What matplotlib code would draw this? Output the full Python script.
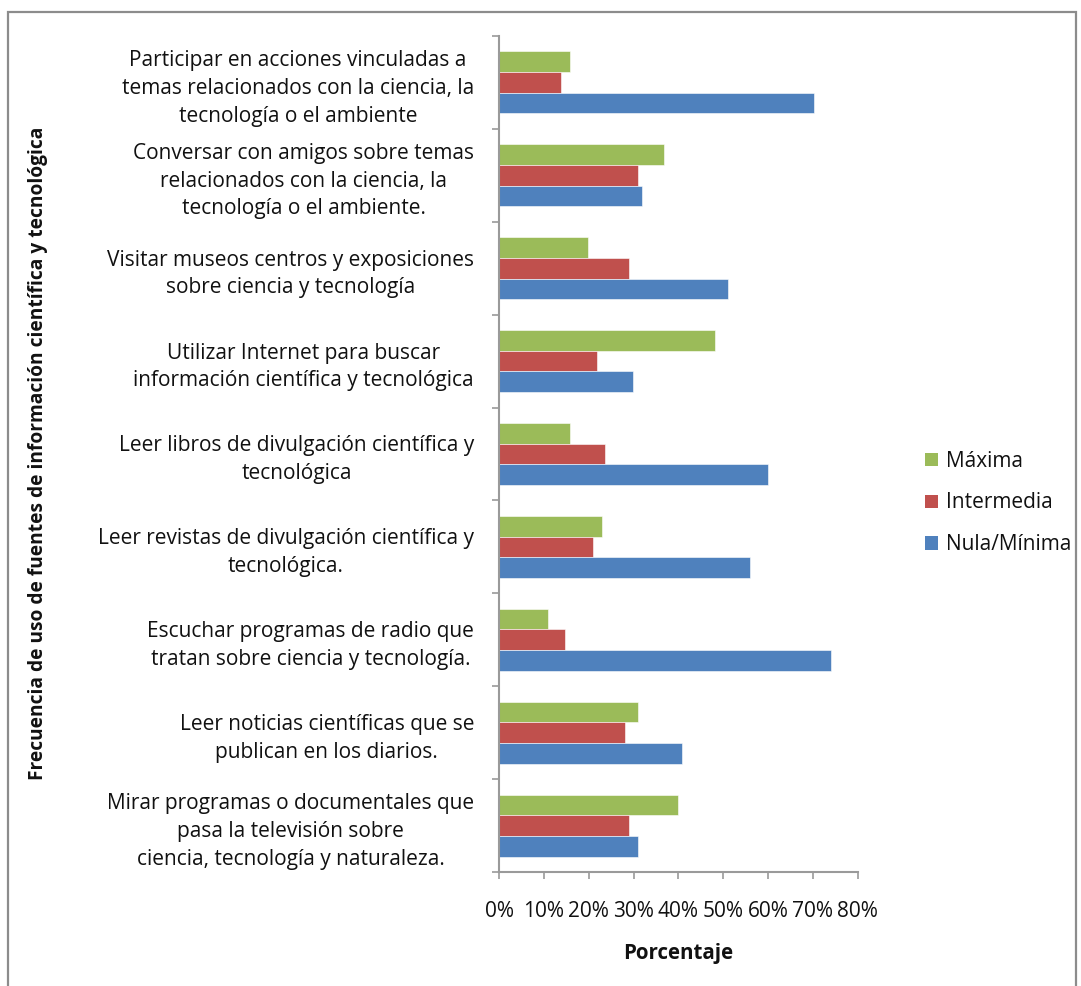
import matplotlib
matplotlib.use("Agg")
import matplotlib.pyplot as plt
from matplotlib.patches import Rectangle, Patch
import numpy as np

plt.rcParams['font.family'] = ['Open Sans', 'DejaVu Sans']

categories = [
    "Participar en acciones vinculadas a\ntemas relacionados con la ciencia, la\ntecnología o el ambiente",
    "Conversar con amigos sobre temas\nrelacionados con la ciencia, la\ntecnología o el ambiente.",
    "Visitar museos centros y exposiciones\nsobre ciencia y tecnología",
    "Utilizar Internet para buscar\ninformación científica y tecnológica",
    "Leer libros de divulgación científica y\ntecnológica",
    "Leer revistas de divulgación científica y\ntecnológica.",
    "Escuchar programas de radio que\ntratan sobre ciencia y tecnología.",
    "Leer noticias científicas que se\npublican en los diarios.",
    "Mirar programas o documentales que\npasa la televisión sobre\nciencia, tecnología y naturaleza.",
]
maxima = [15.8, 36.9, 19.8, 48.1, 15.8, 23.0, 10.9, 30.9, 39.9]
intermedia = [13.8, 30.9, 29.1, 21.9, 23.7, 20.9, 14.8, 28.0, 29.1]
nula = [70.2, 32.0, 51.0, 29.8, 60.1, 55.9, 74.1, 40.9, 30.9]
series_names = ["Máxima", "Intermedia", "Nula/Mínima"]
colors = ["#9BBB59", "#C0504D", "#4F81BD"]
xticks = [0, 10, 20, 30, 40, 50, 60, 70, 80]

FS = 15
W, H = 1081, 986
fig = plt.figure(figsize=(W / 100, H / 100), dpi=100)
fig.patch.set_facecolor("white")

# chart area border
fig.patches.append(Rectangle((8 / W, -0.02), (1076 - 8) / W, 1 - 12 / H + 0.02,
                             transform=fig.transFigure, fill=False,
                             edgecolor="#8C8C8C", lw=1.6))

ax = fig.add_axes([499 / W, 1 - 872 / H, (857.7 - 499) / W, (872 - 36) / H])
y = np.arange(len(categories))
h = 0.2228
for vals, off, c in zip([maxima, intermedia, nula], [-h, 0, h], colors):
    ax.barh(y + off, vals, height=h, color=c, edgecolor="white", linewidth=0.4)

ax.set_ylim(len(categories) - 0.5, -0.5)
ax.set_xlim(0, 80)
ax.set_xticks(xticks)
ax.set_xticklabels([f"{t}%" for t in xticks], fontsize=15, color="#111111")
ax.set_yticks(y)
ax.set_yticklabels(categories, fontsize=FS, color="#111111")
for lab in ax.get_yticklabels():
    lab.set_multialignment("center")
    lab.set_linespacing(1.42)
ax.set_yticks(np.arange(len(categories) + 1) - 0.5, minor=True)
ax.tick_params(axis="y", which="major", length=0, pad=18)
ax.tick_params(axis="y", which="minor", length=5, width=1.2, color="#9A9A9A")
ax.tick_params(axis="x", which="major", length=5, width=1.2, color="#9A9A9A", pad=16)

for s in ["top", "right"]:
    ax.spines[s].set_visible(False)
for s in ["left", "bottom"]:
    ax.spines[s].set_color("#9A9A9A")
    ax.spines[s].set_linewidth(1.5)

fig.text(678 / W, 1 - 953 / H, "Porcentaje", ha="center", va="center",
         fontsize=14.8, fontweight="bold", color="#111111")
fig.text(38 / W, 1 - 453 / H,
         "Frecuencia de uso de fuentes de información científica y tecnológica",
         ha="center", va="center", rotation=90, fontsize=13.8,
         fontweight="bold", color="#111111")

handles = [Patch(facecolor=c, edgecolor="none") for c in colors]
leg = fig.legend(handles, series_names, loc="center left",
                 bbox_to_anchor=(915 / W, 1 - 503 / H), frameon=False,
                 fontsize=15, handlelength=0.6, handleheight=0.6,
                 handletextpad=0.4, labelspacing=1.0, borderpad=0)
for t in leg.get_texts():
    t.set_color("#111111")

fig.savefig("out.png", dpi=100, facecolor="white")
